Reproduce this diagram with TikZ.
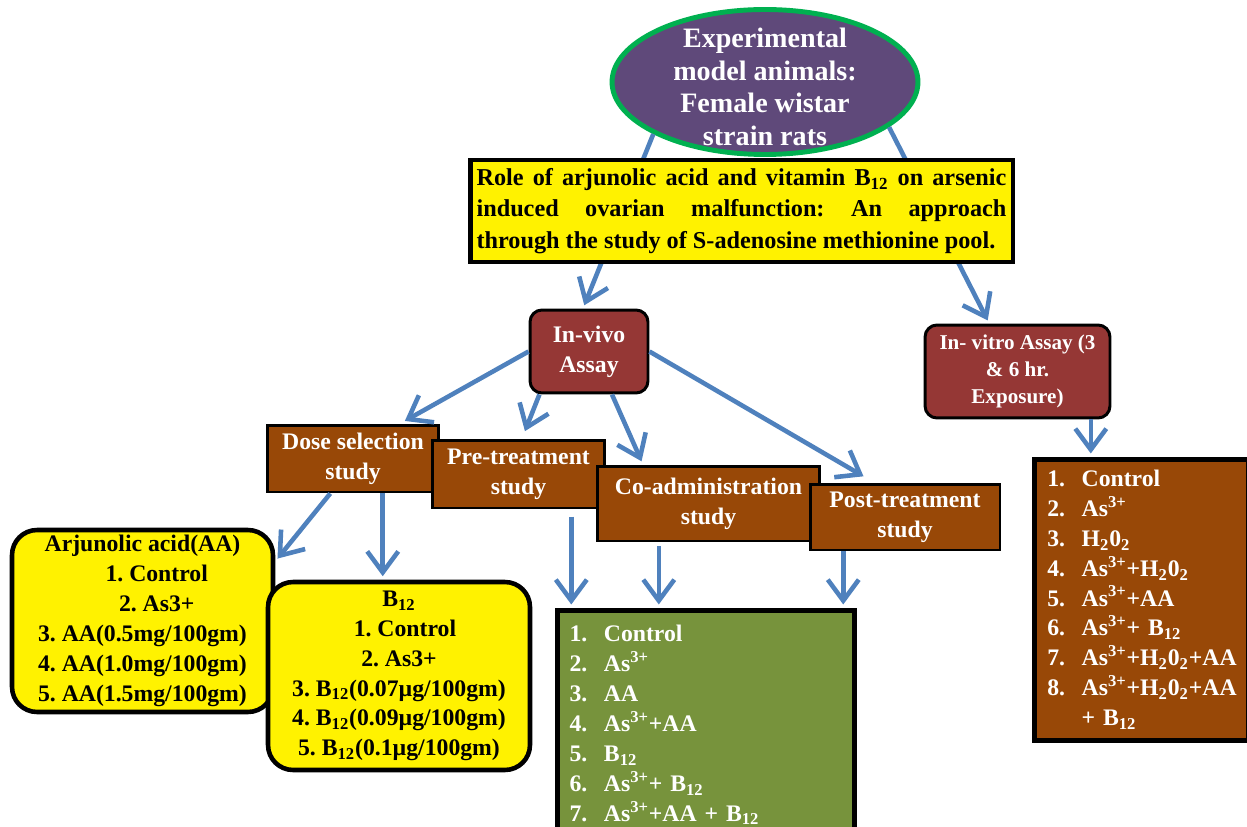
\documentclass[tikz,border=0pt]{standalone}
\usepackage{fontspec}
\setmainfont{Liberation Serif}
\usetikzlibrary{shapes.geometric,arrows.meta,calc}
\definecolor{arrblue}{HTML}{4F81BD}
\definecolor{ratpurple}{HTML}{5F497A}
\definecolor{ratgreen}{HTML}{00B050}
\definecolor{assayred}{HTML}{953735}
\definecolor{studybrown}{HTML}{984807}
\definecolor{listgreen}{HTML}{77933C}
\newcommand{\Bt}{B\textsubscript{12}}
\newcommand{\Asx}{As\textsuperscript{3+}}
\newcommand{\HO}{H\textsubscript{2}0\textsubscript{2}}
\newcommand{\itm}[1]{\makebox[1.45em][l]{#1}}
\frenchspacing

\begin{document}
\begin{tikzpicture}[x=0.02cm,y=-0.02cm,
    every node/.style={font=\fontsize{13.5}{17}\selectfont\bfseries},
    arr/.style={draw=arrblue,line width=2.6pt,-{Straight Barb[length=0.42cm,width=0.62cm]},shorten >=2pt},
    study/.style={draw,line width=1.7pt,fill=studybrown,text=white,align=center,inner sep=1pt},
    assay/.style={draw,line width=1.7pt,fill=assayred,text=white,align=center,rounded corners=0.24cm,inner sep=1pt},
    dosebox/.style={draw,line width=2.6pt,fill=yellow,rounded corners=0.5cm,align=center,inner sep=1pt},
    listbox/.style={draw,line width=2.6pt,text=white,align=left,inner sep=3pt,anchor=north west}]
\useasboundingbox (0,0) rectangle (1247,827);
\node[ellipse,draw=ratgreen,line width=2.8pt,fill=ratpurple,minimum width=6.12cm,minimum height=2.9cm,inner sep=0pt] (animals) at (765,82) {};
\node[text=white,align=center,font=\fontsize{16}{18.5}\selectfont\bfseries] (animalstext) at (765,87) {Experimental\\model animals:\\Female wistar\\strain rats};
\node[assay,minimum width=2.36cm,minimum height=1.66cm] (invivo) at (589,351.5) {In-vivo\\Assay};
\node[assay,minimum width=3.7cm,minimum height=1.86cm,font=\fontsize{12}{15.5}\selectfont\bfseries] (invitro) at (1017.5,371.5) {In- vitro Assay (3\\\& 6 hr.\\Exposure)};
\draw[arr] (animals.205) -- ($(invivo.north west)!0.45!(invivo.north east)$);
\draw[arr] (animals.-20) -- ($(invitro.north west)!0.35!(invitro.north east)$);
\node[draw,line width=2.8pt,fill=yellow,minimum width=10.86cm,minimum height=2.04cm,text width=10.6cm,align=justify,inner sep=2pt,font=\fontsize{13.8}{17.8}\selectfont\bfseries] (title) at (741.5,211) {Role of arjunolic acid and vitamin \Bt{} on arsenic\linebreak induced ovarian malfunction: An approach\linebreak through the study of S-adenosine methionine pool.};
\node[study,minimum width=3.44cm,minimum height=1.34cm] (dose) at (353,458.5) {Dose selection\\study};
\node[study,minimum width=3.46cm,minimum height=1.36cm] (pre) at (518.5,474) {Pre-treatment\\study};
\node[study,minimum width=4.46cm,minimum height=1.5cm] (coadm) at (708.5,503.5) {Co-administration\\study};
\node[study,minimum width=3.8cm,minimum height=1.32cm] (post) at (905,517) {Post-treatment\\study};
\node[dosebox,minimum width=5.22cm,minimum height=3.64cm] (aabox) at (142.5,621) {Arjunolic acid(AA)\\\hspace*{1.2em}1. Control\\\hspace*{1.2em}2. As3+\\3. AA(0.5mg/100gm)\\4. AA(1.0mg/100gm)\\5. AA(1.5mg/100gm)};
\node[dosebox,minimum width=5.24cm,minimum height=3.76cm] (b12box) at (399,676) {\Bt\\\hspace*{0.5em}1. Control\\2. As3+\\3. \Bt(0.07µg/100gm)\\4. \Bt(0.09µg/100gm)\\5. \Bt(0.1µg/100gm)};
\node[listbox,fill=listgreen,minimum width=5.94cm,minimum height=4.6cm,text width=5.45cm] (treatlist) at (555,608) {\itm{1.}Control\\\itm{2.}\Asx\\\itm{3.}AA\\\itm{4.}\Asx+AA\\\itm{5.}\Bt\\\itm{6.}\Asx+ \Bt\\\itm{7.}\Asx+AA + \Bt};
\node[listbox,fill=studybrown,minimum width=4.28cm,minimum height=5.62cm,text width=3.76cm] (vitrolist) at (1032,457) {\itm{1.}Control\\\itm{2.}\Asx\\\itm{3.}\HO\\\itm{4.}\Asx+\HO\\\itm{5.}\Asx+AA\\\itm{6.}\Asx+ \Bt\\\itm{7.}\Asx+\HO+AA\\\itm{8.}\Asx+\HO+AA\\\itm{}+ \Bt};
\draw[arr,shorten >=3pt] (invivo.west) -- ($(dose.north west)!0.77!(dose.north east)$);
\draw[arr,shorten >=4.5pt] ($(invivo.south west)!0.09!(invivo.south east)$) -- ($(pre.north west)!0.52!(pre.north east)$);
\draw[arr] ($(invivo.south west)!0.69!(invivo.south east)$) -- ($(coadm.north west)!0.21!(coadm.north east)$);
\draw[arr,shorten >=7pt] (invivo.east) -- ($(post.north west)!0.34!(post.north east)$);
\draw[arr] ($(dose.south west)!0.37!(dose.south east)$) -- ($(aabox.north east)!0.18!(aabox.south east)$);
\draw[arr] ($(dose.south west)!0.67!(dose.south east)$) coordinate (dosefoot) -- (dosefoot |- b12box.north);
\draw[arr,shorten <=4pt] ($(pre.south west)!0.8!(pre.south east)$) coordinate (prefoot) -- (prefoot |- treatlist.north);
\draw[arr,shorten <=2pt] ($(coadm.south west)!0.28!(coadm.south east)$) coordinate (coadmfoot) -- (coadmfoot |- treatlist.north);
\draw[arr] ($(post.south west)!0.18!(post.south east)$) coordinate (postfoot) -- (postfoot |- treatlist.north);
\draw[arr] ($(invitro.south west)!0.89!(invitro.south east)$) coordinate (invitrofoot) -- (invitrofoot |- vitrolist.north);
\end{tikzpicture}
\end{document}
